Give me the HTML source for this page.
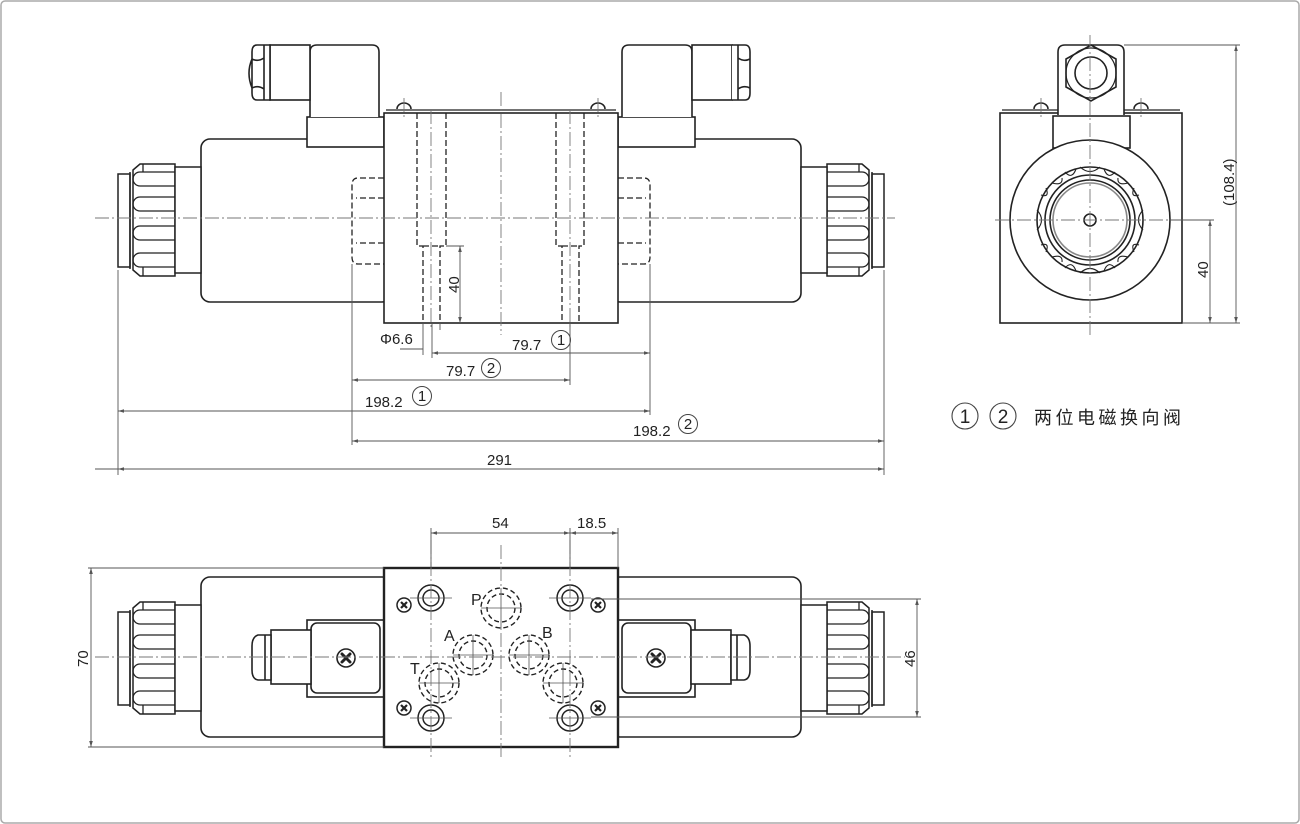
<!DOCTYPE html>
<html><head><meta charset="utf-8"><style>
html,body{margin:0;padding:0;background:#fff}
svg{display:block}
text{font-family:"Liberation Sans","Noto Sans CJK SC",sans-serif;fill:#222}
</style></head><body>
<svg width="1300" height="824" viewBox="0 0 1300 824" xmlns="http://www.w3.org/2000/svg">
<defs>
<marker id="ar" viewBox="0 0 10 6" refX="10" refY="3" markerWidth="8" markerHeight="4" orient="auto-start-reverse"><path d="M0,0L10,3L0,6z" fill="#555"/></marker>
<g id="capL">
  <rect x="118" y="174" width="12" height="93" fill="#fff" stroke="#222" stroke-width="1.5"/>
  <path d="M130,172 L130,269 M133,170 L140,164 L175,164 L175,276 L140,276 L133,270 Z" fill="#fff" stroke="#222" stroke-width="1.5"/>
  <path d="M175,172 L140,172 A7,7 0 0 0 140,186 L175,186 M175,197 L140,197 A7,7 0 0 0 140,211 L175,211 M175,226 L140,226 A7,7 0 0 0 140,240 L175,240 M175,253 L140,253 A7,7 0 0 0 140,267 L175,267 M143,164 L143,172 M143,267 L143,276" fill="none" stroke="#222" stroke-width="1.3"/>
  <rect x="175" y="167" width="26" height="106" fill="#fff" stroke="#222" stroke-width="1.5"/>
</g>
</defs>
<rect x="1" y="1" width="1298" height="822" rx="4" fill="#fff" stroke="#aaa" stroke-width="1.5"/>

<!-- ============ TOP VIEW ============ -->
<g stroke="#222" stroke-width="1.6" fill="#fff">
  <rect x="201" y="139" width="190" height="163" rx="9"/>
  <rect x="611" y="139" width="190" height="163" rx="9"/>
  <rect x="307" y="117" width="77" height="30"/>
  <rect x="618" y="117" width="77" height="30"/>
  <path d="M310,117 L310,52 Q310,45 317,45 L372,45 Q379,45 379,52 L379,117"/>
  <path d="M622,117 L622,52 Q622,45 629,45 L685,45 Q692,45 692,52 L692,117"/>
  <rect x="270" y="45" width="40" height="55"/>
  <rect x="692" y="45" width="40" height="55"/>
  <path d="M264,45 L257,45 Q252,45 252,52 L252,93 Q252,100 257,100 L264,100 Z M264,45 L270,45 L270,100 L264,100 M252,59 Q258,62 264,58 M252,88 Q258,85 264,89 M252,59 Q246,73 252,88"/>
  <path d="M738,45 L745,45 Q750,45 750,52 L750,93 Q750,100 745,100 L738,100 Z M732,45 L738,45 L738,100 L732,100 M750,59 Q744,62 738,58 M750,88 Q744,85 738,89"/>
  <rect x="384" y="113" width="234" height="210"/>
  <line x1="386" y1="110" x2="616" y2="110" stroke-width="1.2"/>
  <path d="M397,109 A7,6 0 0 1 411,109" />
  <path d="M591,109 A7,6 0 0 1 605,109" />
</g>
<use href="#capL"/>
<use href="#capL" transform="translate(1002,0) scale(-1,1)"/>
<g stroke="#222" stroke-width="1.3" fill="none" stroke-dasharray="6,3">
  <path d="M384,178 L358,178 Q352,178 352,185 L352,257 Q352,264 358,264 L384,264 M384,198 L356,198 M384,243 L356,243"/>
  <path d="M618,178 L644,178 Q650,178 650,185 L650,257 Q650,264 644,264 L618,264 M618,198 L646,198 M618,243 L646,243"/>
  <path d="M417,113 L417,246 L423,246 L423,323 M446,113 L446,246 L440,246 L440,323 M423,246 L440,246"/>
  <path d="M556,113 L556,246 L562,246 L562,323 M584,113 L584,246 L579,246 L579,323 M562,246 L579,246"/>
</g>
<g stroke="#777" stroke-width="0.9" fill="none" stroke-dasharray="14,3,2,3">
  <line x1="95" y1="218" x2="895" y2="218"/>
  <line x1="501" y1="92" x2="501" y2="335"/>
  <line x1="431" y1="110" x2="431" y2="330"/>
  <line x1="570" y1="110" x2="570" y2="330"/>
  <line x1="404" y1="98" x2="404" y2="120"/>
  <line x1="598" y1="98" x2="598" y2="120"/>
</g>
<g stroke="#555" stroke-width="0.9" fill="none">
  <line x1="118" y1="270" x2="118" y2="475"/>
  <line x1="884" y1="270" x2="884" y2="475"/>
  <line x1="352" y1="264" x2="352" y2="445"/>
  <line x1="650" y1="264" x2="650" y2="415"/>
  <line x1="570" y1="323" x2="570" y2="385"/>
  <line x1="423" y1="323" x2="423" y2="355"/>
  <line x1="432" y1="323" x2="432" y2="358"/>
  <line x1="440" y1="323" x2="440" y2="330"/>
  <line x1="400" y1="349" x2="423" y2="349"/>
  <line x1="446" y1="246" x2="464" y2="246"/>
  <line x1="460" y1="246" x2="460" y2="323" marker-start="url(#ar)" marker-end="url(#ar)"/>
  <line x1="432" y1="353" x2="650" y2="353" marker-start="url(#ar)" marker-end="url(#ar)"/>
  <line x1="352" y1="380" x2="570" y2="380" marker-start="url(#ar)" marker-end="url(#ar)"/>
  <line x1="118" y1="411" x2="650" y2="411" marker-start="url(#ar)" marker-end="url(#ar)"/>
  <line x1="352" y1="441" x2="884" y2="441" marker-start="url(#ar)" marker-end="url(#ar)"/>
  <line x1="118" y1="469" x2="884" y2="469" marker-start="url(#ar)" marker-end="url(#ar)"/>
  <line x1="95" y1="469" x2="118" y2="469"/>
</g>
<g font-size="15">
  <text x="380" y="344">Φ6.6</text>
  <text x="512" y="350">79.7</text>
  <text x="446" y="376">79.7</text>
  <text x="365" y="407">198.2</text>
  <text x="633" y="436">198.2</text>
  <text x="487" y="465">291</text>
  <text transform="translate(459,293) rotate(-90)">40</text>
</g>
<g stroke="#444" stroke-width="1" fill="none">
  <circle cx="561" cy="340" r="9.5"/><circle cx="491" cy="368" r="9.5"/>
  <circle cx="422" cy="396" r="9.5"/><circle cx="688" cy="424" r="9.5"/>
</g>
<g font-size="15" text-anchor="middle">
  <text x="561" y="345">1</text><text x="491" y="373">2</text>
  <text x="422" y="401">1</text><text x="688" y="429">2</text>
</g>

<!-- ============ SIDE VIEW ============ -->
<g stroke="#222" stroke-width="1.6" fill="#fff">
  <rect x="1000" y="113" width="182" height="210"/>
  <line x1="1002" y1="110" x2="1180" y2="110" stroke-width="1.2"/>
  <path d="M1034,109 A7,6 0 0 1 1048,109"/>
  <path d="M1134,109 A7,6 0 0 1 1148,109"/>
  <path d="M1058,115 L1058,52 Q1058,45 1065,45 L1117,45 Q1124,45 1124,52 L1124,115"/>
  <rect x="1053" y="116" width="77" height="32"/>
  <polygon points="1091,45 1116,59 1116,87 1091,101 1066,87 1066,59"/>
  <circle cx="1091" cy="73" r="25" fill="none" stroke-width="1.2"/>
  <circle cx="1091" cy="73" r="16" fill="none"/>
  <circle cx="1090" cy="220" r="80"/>
  <circle cx="1090" cy="220" r="53"/>
  <circle cx="1090" cy="220" r="45" fill="none"/>
  <circle cx="1090" cy="220" r="40" fill="none"/>
  <circle cx="1090" cy="220" r="37" fill="none" stroke="#888"/>
  <circle cx="1090" cy="220" r="6" fill="none"/>
</g>
<g stroke="#222" stroke-width="1.1" fill="none">
  <path d="M1080,167 Q1090,176 1100,167 M1080,273 Q1090,264 1100,273 M1037,210 Q1046,220 1037,230 M1143,210 Q1134,220 1143,230
           M1052,183 Q1063,186 1062,178 M1128,183 Q1117,186 1118,178 M1052,257 Q1063,254 1062,262 M1128,257 Q1117,254 1118,262
           M1041,195 Q1050,198 1046,188 M1139,195 Q1130,198 1134,188 M1041,245 Q1050,242 1046,252 M1139,245 Q1130,242 1134,252
           M1065,172 Q1072,180 1076,169 M1115,172 Q1108,180 1104,169 M1065,268 Q1072,260 1076,271 M1115,268 Q1108,260 1104,271"/>
</g>
<g stroke="#777" stroke-width="0.9" fill="none" stroke-dasharray="14,3,2,3">
  <line x1="1090" y1="35" x2="1090" y2="335"/>
  <line x1="995" y1="220" x2="1210" y2="220"/>
  <line x1="1041" y1="98" x2="1041" y2="118"/>
  <line x1="1141" y1="98" x2="1141" y2="118"/>
</g>
<g stroke="#555" stroke-width="0.9" fill="none">
  <line x1="1124" y1="45" x2="1240" y2="45"/>
  <line x1="1182" y1="323" x2="1240" y2="323"/>
  <line x1="1170" y1="220" x2="1214" y2="220"/>
  <line x1="1236" y1="45" x2="1236" y2="323" marker-start="url(#ar)" marker-end="url(#ar)"/>
  <line x1="1210" y1="220" x2="1210" y2="323" marker-start="url(#ar)" marker-end="url(#ar)"/>
</g>
<g font-size="15">
  <text transform="translate(1234,206) rotate(-90)">(108.4)</text>
  <text transform="translate(1208,278) rotate(-90)">40</text>
</g>
<g stroke="#444" stroke-width="1.1" fill="none">
  <circle cx="965" cy="416" r="13"/><circle cx="1003" cy="416" r="13"/>
</g>
<g font-size="19" text-anchor="middle"><text x="965" y="423">1</text><text x="1003" y="423">2</text></g>
<text x="1034" y="424" font-size="18" letter-spacing="3.5">两位电磁换向阀</text>

<!-- ============ BOTTOM VIEW ============ -->
<g stroke="#222" stroke-width="1.6" fill="#fff">
  <rect x="201" y="577" width="190" height="160" rx="9"/>
  <rect x="611" y="577" width="190" height="160" rx="9"/>
  <rect x="307" y="620" width="77" height="77"/>
  <rect x="618" y="620" width="77" height="77"/>
  <rect x="311" y="623" width="69" height="70" rx="6"/>
  <rect x="622" y="623" width="69" height="70" rx="6"/>
  <rect x="271" y="630" width="40" height="54"/>
  <rect x="691" y="630" width="40" height="54"/>
  <path d="M265,635 L258,635 Q252,637 252,646 L252,670 Q252,679 258,680 L265,680 Z M265,635 L271,635 L271,680 L265,680"/>
  <path d="M737,635 L744,635 Q750,637 750,646 L750,670 Q750,679 744,680 L737,680 Z M737,635 L731,635 L731,680 L737,680"/>
  <circle cx="346" cy="658" r="9"/>
  <circle cx="656" cy="658" r="9"/>
  <rect x="384" y="568" width="234" height="179" stroke-width="2.4"/>
</g>
<g stroke="#222" stroke-width="3" stroke-linecap="round">
  <path d="M342,654 L350,662 M350,654 L342,662"/>
  <path d="M652,654 L660,662 M660,654 L652,662"/>
</g>
<use href="#capL" transform="translate(0,438)"/>
<use href="#capL" transform="translate(1002,438) scale(-1,1)"/>
<g stroke="#222" stroke-width="1.5" fill="none">
  <circle cx="431" cy="598" r="13"/><circle cx="431" cy="598" r="8"/>
  <circle cx="570" cy="598" r="13"/><circle cx="570" cy="598" r="8"/>
  <circle cx="431" cy="718" r="13"/><circle cx="431" cy="718" r="8"/>
  <circle cx="570" cy="718" r="13"/><circle cx="570" cy="718" r="8"/>
  <circle cx="404" cy="605" r="7"/><circle cx="598" cy="605" r="7"/>
  <circle cx="404" cy="708" r="7"/><circle cx="598" cy="708" r="7"/>
</g>
<g stroke="#222" stroke-width="2.2">
  <path d="M401,602 L407,608 M407,602 L401,608 M595,602 L601,608 M601,602 L595,608 M401,705 L407,711 M407,705 L401,711 M595,705 L601,711 M601,705 L595,711"/>
</g>
<g stroke="#222" stroke-width="1.4" fill="none" stroke-dasharray="5,3">
  <circle cx="501" cy="608" r="20"/><circle cx="501" cy="608" r="14"/>
  <circle cx="473" cy="655" r="20"/><circle cx="473" cy="655" r="14"/>
  <circle cx="529" cy="655" r="20"/><circle cx="529" cy="655" r="14"/>
  <circle cx="439" cy="683" r="20"/><circle cx="439" cy="683" r="14"/>
  <circle cx="563" cy="683" r="20"/><circle cx="563" cy="683" r="14"/>
</g>
<g stroke="#555" stroke-width="0.8" fill="none">
  <path d="M481,608 L521,608 M501,588 L501,628 M453,655 L493,655 M473,635 L473,675 M509,655 L549,655 M529,635 L529,675 M419,683 L459,683 M439,663 L439,703 M543,683 L583,683 M563,663 L563,703"/>
  <path d="M410,598 L452,598 M549,598 L591,598 M410,718 L452,718 M549,718 L591,718"/>
</g>
<g font-size="16"><text x="471" y="605">P</text><text x="444" y="641">A</text><text x="542" y="638">B</text><text x="410" y="674">T</text></g>
<g stroke="#777" stroke-width="0.9" fill="none" stroke-dasharray="14,3,2,3">
  <line x1="95" y1="657" x2="905" y2="657"/>
  <line x1="501" y1="545" x2="501" y2="760"/>
  <line x1="431" y1="540" x2="431" y2="760"/>
  <line x1="570" y1="540" x2="570" y2="760"/>
</g>
<g stroke="#555" stroke-width="0.9" fill="none">
  <line x1="431" y1="528" x2="431" y2="568"/>
  <line x1="570" y1="528" x2="570" y2="568"/>
  <line x1="618" y1="528" x2="618" y2="568"/>
  <line x1="431" y1="533" x2="570" y2="533" marker-start="url(#ar)" marker-end="url(#ar)"/>
  <line x1="570" y1="533" x2="618" y2="533" marker-start="url(#ar)" marker-end="url(#ar)"/>
  <line x1="88" y1="568" x2="384" y2="568"/>
  <line x1="88" y1="747" x2="384" y2="747"/>
  <line x1="91" y1="568" x2="91" y2="747" marker-start="url(#ar)" marker-end="url(#ar)"/>
  <line x1="591" y1="599" x2="921" y2="599"/>
  <line x1="591" y1="717" x2="921" y2="717"/>
  <line x1="917" y1="599" x2="917" y2="717" marker-start="url(#ar)" marker-end="url(#ar)"/>
</g>
<g font-size="15">
  <text x="492" y="528">54</text>
  <text x="577" y="528">18.5</text>
  <text transform="translate(88,667) rotate(-90)">70</text>
  <text transform="translate(915,667) rotate(-90)">46</text>
</g>
</svg>
</body></html>
